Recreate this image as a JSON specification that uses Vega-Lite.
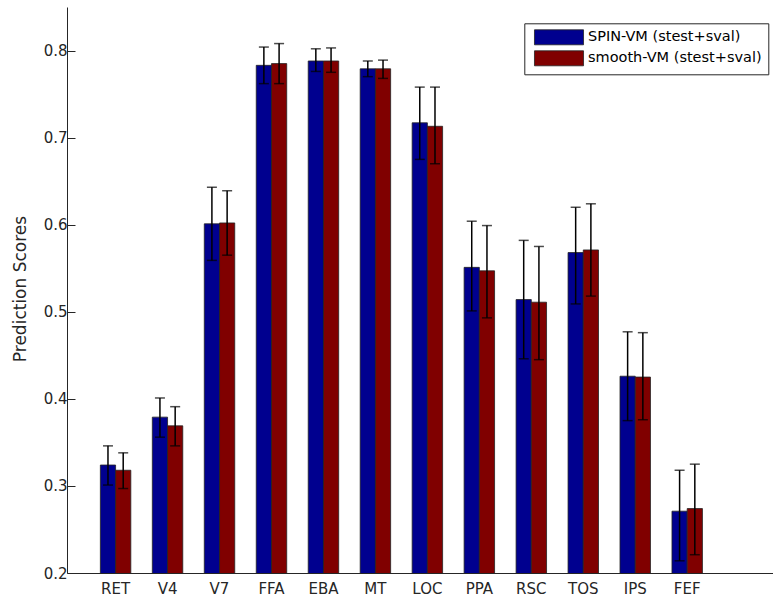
{
  "$schema": "https://vega.github.io/schema/vega-lite/v6.json",
  "width": 706,
  "height": 566,
  "autosize": {"type": "none"},
  "padding": {"left": 67, "top": 7, "right": 0, "bottom": 27},
  "background": "white",
  "config": {
    "view": {"stroke": null},
    "font": "DejaVu Sans",
    "axis": {"grid": false, "domainColor": "#262626", "labelColor": "#262626", "titleColor": "#262626", "labelFont": "DejaVu Sans", "titleFont": "DejaVu Sans"}
  },
  "data": {
    "values": [
      {"region": "RET", "method": "SPIN-VM (stest+sval)", "score": 0.324, "lo": 0.301, "hi": 0.346},
      {"region": "RET", "method": "smooth-VM (stest+sval)", "score": 0.318, "lo": 0.297, "hi": 0.338},
      {"region": "V4", "method": "SPIN-VM (stest+sval)", "score": 0.379, "lo": 0.356, "hi": 0.401},
      {"region": "V4", "method": "smooth-VM (stest+sval)", "score": 0.369, "lo": 0.346, "hi": 0.391},
      {"region": "V7", "method": "SPIN-VM (stest+sval)", "score": 0.601, "lo": 0.559, "hi": 0.643},
      {"region": "V7", "method": "smooth-VM (stest+sval)", "score": 0.602, "lo": 0.565, "hi": 0.639},
      {"region": "FFA", "method": "SPIN-VM (stest+sval)", "score": 0.783, "lo": 0.762, "hi": 0.804},
      {"region": "FFA", "method": "smooth-VM (stest+sval)", "score": 0.785, "lo": 0.762, "hi": 0.808},
      {"region": "EBA", "method": "SPIN-VM (stest+sval)", "score": 0.788, "lo": 0.776, "hi": 0.802},
      {"region": "EBA", "method": "smooth-VM (stest+sval)", "score": 0.788, "lo": 0.775, "hi": 0.803},
      {"region": "MT", "method": "SPIN-VM (stest+sval)", "score": 0.779, "lo": 0.770, "hi": 0.788},
      {"region": "MT", "method": "smooth-VM (stest+sval)", "score": 0.779, "lo": 0.768, "hi": 0.789},
      {"region": "LOC", "method": "SPIN-VM (stest+sval)", "score": 0.717, "lo": 0.675, "hi": 0.758},
      {"region": "LOC", "method": "smooth-VM (stest+sval)", "score": 0.713, "lo": 0.670, "hi": 0.758},
      {"region": "PPA", "method": "SPIN-VM (stest+sval)", "score": 0.551, "lo": 0.501, "hi": 0.604},
      {"region": "PPA", "method": "smooth-VM (stest+sval)", "score": 0.547, "lo": 0.493, "hi": 0.599},
      {"region": "RSC", "method": "SPIN-VM (stest+sval)", "score": 0.514, "lo": 0.446, "hi": 0.582},
      {"region": "RSC", "method": "smooth-VM (stest+sval)", "score": 0.511, "lo": 0.445, "hi": 0.575},
      {"region": "TOS", "method": "SPIN-VM (stest+sval)", "score": 0.568, "lo": 0.509, "hi": 0.620},
      {"region": "TOS", "method": "smooth-VM (stest+sval)", "score": 0.571, "lo": 0.518, "hi": 0.624},
      {"region": "IPS", "method": "SPIN-VM (stest+sval)", "score": 0.426, "lo": 0.375, "hi": 0.477},
      {"region": "IPS", "method": "smooth-VM (stest+sval)", "score": 0.425, "lo": 0.376, "hi": 0.476},
      {"region": "FEF", "method": "SPIN-VM (stest+sval)", "score": 0.271, "lo": 0.214, "hi": 0.318},
      {"region": "FEF", "method": "smooth-VM (stest+sval)", "score": 0.274, "lo": 0.221, "hi": 0.325}
    ]
  },
  "encoding": {
    "x": {
      "field": "region", "type": "nominal", "sort": null,
      "scale": {"paddingInner": 0.414, "paddingOuter": 1.1, "align": 0.321, "round": false},
      "axis": {"title": null, "ticks": false, "labelAngle": 0, "labelFontSize": 15, "labelPadding": 8, "domainWidth": 1}
    },
    "xOffset": {
      "field": "method", "type": "nominal",
      "sort": ["SPIN-VM (stest+sval)", "smooth-VM (stest+sval)"],
      "scale": {"paddingInner": 0, "paddingOuter": 0}
    }
  },
  "layer": [
    {
      "mark": {"type": "bar", "stroke": "#222222", "strokeWidth": 0.8, "clip": true},
      "encoding": {
        "y": {
          "field": "score", "type": "quantitative",
          "scale": {"domain": [0.2, 0.85], "zero": false, "nice": false},
          "axis": {
            "title": "Prediction Scores", "titleFontSize": 17, "titleFontWeight": "normal",
            "titleX": -42, "titleY": 281.5, "titleAngle": -90, "titleAlign": "center", "titleBaseline": "alphabetic",
            "values": [0.2, 0.3, 0.4, 0.5, 0.6, 0.7, 0.8], "format": ".1f",
            "labelFontSize": 15, "tickSize": -8, "tickColor": "#262626", "labelPadding": 8, "domainWidth": 1
          }
        },
        "color": {
          "field": "method", "type": "nominal",
          "scale": {"domain": ["SPIN-VM (stest+sval)", "smooth-VM (stest+sval)"], "range": ["#00008F", "#800000"]},
          "legend": {
            "title": null, "orient": "none", "legendX": 457.3, "legendY": 16.3,
            "strokeColor": "#262626", "fillColor": "white", "padding": 6,
            "symbolType": "M-3.27,-1H3.27V1H-3.27Z", "symbolSize": 225, "symbolOffset": 20.7,
            "symbolStrokeColor": "#222222", "symbolStrokeWidth": 0.8, "symbolOpacity": 1,
            "labelFontSize": 14.5, "labelFont": "DejaVu Sans", "labelColor": "#000000", "labelLimit": 0,
            "labelOffset": 21, "rowPadding": 1
          }
        }
      }
    },
    {
      "mark": {"type": "rule", "color": "#000000", "strokeWidth": 1.5},
      "encoding": {
        "y": {"field": "lo", "type": "quantitative"},
        "y2": {"field": "hi"}
      }
    },
    {
      "mark": {"type": "tick", "color": "#000000", "size": 10, "thickness": 1.5},
      "encoding": {"y": {"field": "lo", "type": "quantitative"}}
    },
    {
      "mark": {"type": "tick", "color": "#000000", "size": 10, "thickness": 1.5},
      "encoding": {"y": {"field": "hi", "type": "quantitative"}}
    }
  ]
}
